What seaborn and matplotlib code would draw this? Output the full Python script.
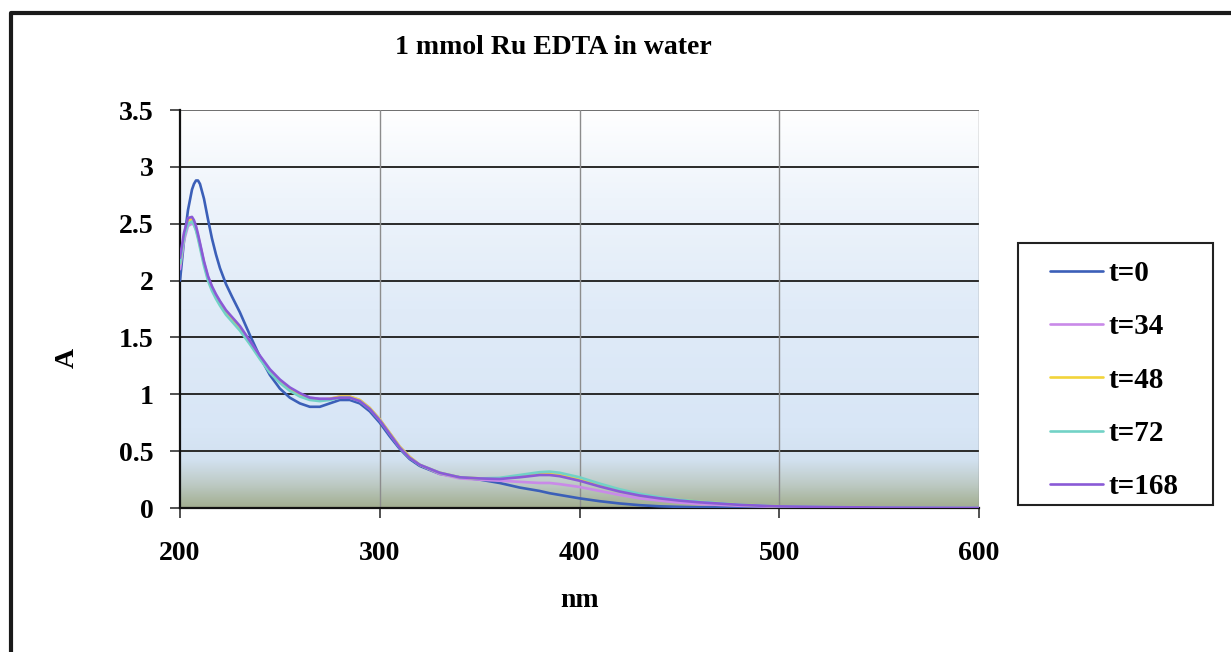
import numpy as np
import pandas as pd
import matplotlib
matplotlib.use("Agg")
import matplotlib.pyplot as plt
from matplotlib.lines import Line2D
from matplotlib.patches import Rectangle
import seaborn as sns

# wavelength grid (nm)
wl = [200, 202, 204, 206, 207, 208, 209, 210, 212, 214, 216, 218, 220, 223, 226, 230, 235,
      240, 245, 250, 255, 260, 265, 270, 275, 280, 285, 290, 295, 300, 305, 310,
      315, 320, 330, 340, 350, 360, 370, 380, 385, 390, 400, 410, 420, 430, 440,
      450, 460, 480, 500, 550, 600]

t0 = [2.0, 2.35, 2.62, 2.8, 2.85, 2.88, 2.88, 2.85, 2.72, 2.54, 2.37, 2.23, 2.11, 1.97, 1.86, 1.72, 1.52,
      1.33, 1.17, 1.05, 0.97, 0.92, 0.89, 0.89, 0.92, 0.95, 0.95, 0.92, 0.85, 0.75, 0.63, 0.52,
      0.43, 0.37, 0.30, 0.27, 0.25, 0.22, 0.18, 0.15, 0.13, 0.115, 0.085, 0.06, 0.04, 0.025, 0.015,
      0.01, 0.006, 0.003, 0.002, 0.001, 0.0]
t34 = [2.1, 2.35, 2.48, 2.5, 2.49, 2.45, 2.39, 2.32, 2.16, 2.03, 1.94, 1.87, 1.81, 1.73, 1.67, 1.59, 1.46,
       1.33, 1.21, 1.12, 1.05, 1.0, 0.97, 0.96, 0.96, 0.98, 0.98, 0.95, 0.88, 0.78, 0.66, 0.54,
       0.45, 0.38, 0.30, 0.26, 0.25, 0.24, 0.23, 0.22, 0.22, 0.21, 0.185, 0.15, 0.115, 0.085, 0.065,
       0.048, 0.035, 0.02, 0.01, 0.003, 0.001]
t48 = [2.15, 2.4, 2.53, 2.54, 2.51, 2.46, 2.39, 2.31, 2.15, 2.02, 1.93, 1.86, 1.8, 1.72, 1.66, 1.58, 1.45,
       1.32, 1.2, 1.11, 1.04, 0.99, 0.96, 0.95, 0.96, 0.98, 0.98, 0.95, 0.88, 0.78, 0.66, 0.54,
       0.45, 0.38, 0.31, 0.27, 0.26, 0.26, 0.28, 0.30, 0.30, 0.29, 0.25, 0.2, 0.155, 0.12, 0.09,
       0.07, 0.055, 0.03, 0.015, 0.005, 0.002]
t72 = [2.15, 2.38, 2.5, 2.52, 2.49, 2.44, 2.37, 2.29, 2.13, 2.0, 1.91, 1.84, 1.78, 1.7, 1.64, 1.56, 1.44,
       1.31, 1.19, 1.1, 1.03, 0.98, 0.95, 0.94, 0.95, 0.97, 0.97, 0.94, 0.87, 0.77, 0.65, 0.53,
       0.44, 0.38, 0.31, 0.27, 0.26, 0.265, 0.29, 0.315, 0.32, 0.31, 0.27, 0.215, 0.165, 0.125, 0.095,
       0.072, 0.056, 0.03, 0.015, 0.005, 0.002]
t168 = [2.2, 2.42, 2.55, 2.56, 2.53, 2.48, 2.41, 2.33, 2.17, 2.04, 1.95, 1.88, 1.82, 1.74, 1.68, 1.6, 1.47,
        1.34, 1.22, 1.13, 1.06, 1.01, 0.97, 0.96, 0.96, 0.97, 0.97, 0.94, 0.87, 0.77, 0.65, 0.53,
        0.44, 0.38, 0.31, 0.27, 0.26, 0.255, 0.27, 0.29, 0.29, 0.28, 0.24, 0.19, 0.145, 0.11, 0.085,
        0.065, 0.05, 0.028, 0.014, 0.004, 0.001]

labels = ["t=0", "t=34", "t=48", "t=72", "t=168"]
colors = ["#3b5fb8", "#c98ae8", "#f2d43a", "#72d2c6", "#8a5ad6"]

df = pd.concat([pd.DataFrame({"nm": wl, "A": s, "series": lab})
                for s, lab in zip([t0, t34, t48, t72, t168], labels)])

sns.set_style("white")
plt.rcParams["font.family"] = ["Liberation Serif", "DejaVu Serif"]
plt.rcParams["font.weight"] = "bold"
plt.rcParams["text.color"] = "black"
plt.rcParams["axes.labelcolor"] = "black"
plt.rcParams["xtick.color"] = "black"
plt.rcParams["ytick.color"] = "black"

fig = plt.figure(figsize=(12.31, 6.52), dpi=100)
ax = fig.add_axes([180 / 1231, 1 - 508 / 652, 799 / 1231, 398 / 652])

# gradient background of plot area (white at top -> light blue -> greenish grey at bottom)
grad = np.array([[255, 255, 255], [238, 244, 251], [224, 235, 248], [216, 230, 246],
                 [210, 225, 240], [190, 203, 198], [162, 174, 144]]) / 255.0
pos = np.array([0.0, 0.22, 0.5, 0.8, 0.88, 0.94, 1.0])
yy = np.linspace(0, 1, 256)
img = np.stack([np.interp(yy, pos, grad[:, k]) for k in range(3)], axis=1)[:, None, :]
ax.imshow(img, extent=[200, 600, 0, 3.5], aspect="auto", zorder=0, origin="upper")

sns.lineplot(data=df, x="nm", y="A", hue="series", palette=colors, ax=ax,
             linewidth=1.9, zorder=3, sort=False, legend=False)

ax.set_xlim(200, 600)
ax.set_ylim(0, 3.5)
ax.set_xticks([200, 300, 400, 500, 600])
ax.set_yticks([0, 0.5, 1, 1.5, 2, 2.5, 3, 3.5])
ax.set_yticklabels(["0", "0.5", "1", "1.5", "2", "2.5", "3", "3.5"])

for y in [0.5, 1, 1.5, 2, 2.5, 3]:
    ax.axhline(y, color="#2a2a2a", lw=1.4, zorder=2)
ax.axhline(3.5, color="#555555", lw=1.2, zorder=2)
for x in [300, 400, 500, 600]:
    ax.axvline(x, color="#8c8c8c", lw=1.0, zorder=2)

for s in ["top", "right"]:
    ax.spines[s].set_visible(False)
ax.spines["left"].set_color("#111111")
ax.spines["left"].set_linewidth(1.6)
ax.spines["bottom"].set_color("#111111")
ax.spines["bottom"].set_linewidth(1.6)

ax.tick_params(axis="both", direction="out", length=7, width=1.2, color="#333333",
               labelsize=20, bottom=True, left=True)
ax.tick_params(axis="x", pad=17)
ax.tick_params(axis="y", pad=12)

ax.set_xlabel("nm", fontsize=20, fontweight="bold")
ax.xaxis.set_label_coords(0.5, -0.232)
ax.xaxis.label.set_va("center")
ax.set_ylabel("A", fontsize=20, fontweight="bold")
ax.yaxis.set_label_coords(-0.141, 0.377)
ax.yaxis.label.set_va("center")

ax.text(0.269, 1.156, "1 mmol Ru EDTA in water", transform=ax.transAxes,
        ha="left", va="center", fontsize=20, fontweight="bold")

# legend
handles = [Line2D([], [], color=c, lw=1.9) for c in colors]
leg = fig.legend(handles, labels, loc="center left", frameon=False,
                 bbox_to_anchor=(1050 / 1231, 1 - 380 / 652), bbox_transform=fig.transFigure,
                 borderpad=0, borderaxespad=0, handlelength=1.8, handletextpad=0.2,
                 labelspacing=0.9, prop={"size": 21, "weight": "bold"})
fig.add_artist(Rectangle((1018 / 1231, 1 - 505 / 652), 195 / 1231, 262 / 652,
                         transform=fig.transFigure, fill=False, ec="#222222", lw=1.5))

# outer chart frame (cropped at right and bottom)
fig.add_artist(Line2D([11 / 1231, 11 / 1231, 1.0], [0.0, 1 - 13 / 652, 1 - 13 / 652],
                      transform=fig.transFigure, color="#1a1a1a", lw=3))

fig.savefig("out.png", dpi=100)
